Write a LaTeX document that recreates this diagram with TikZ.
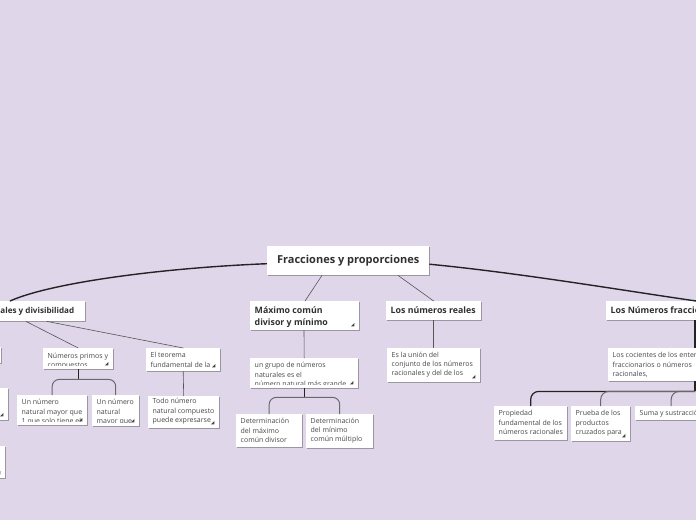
\documentclass[tikz,border=0pt]{standalone}
\usepackage{fontspec}
\newfontfamily\os{Open Sans}
\usetikzlibrary{calc,shadows}
\definecolor{bgc}{RGB}{224,214,233}
\definecolor{txc}{RGB}{72,72,72}
\definecolor{ttc}{RGB}{48,48,48}
\definecolor{lnc}{RGB}{35,35,35}
\definecolor{glc}{RGB}{85,85,85}
\definecolor{brc}{RGB}{105,105,105}
\definecolor{mkc}{RGB}{70,70,70}
\tikzset{
  box/.style={fill=white, inner sep=0pt, draw=none,
    drop shadow={shadow xshift=0.5pt, shadow yshift=-0.8pt, opacity=0.3, fill=black}},
  body/.style={font=\os\fontsize{7}{9.4}\selectfont, text=txc, align=left, inner sep=0pt},
  ttl/.style={font=\os\bfseries\fontsize{8.8}{12}\selectfont, text=ttc, align=left, inner sep=0pt},
  ttls/.style={font=\os\bfseries\fontsize{8.1}{12}\selectfont, text=ttc, align=left, inner sep=0pt},
  mainln/.style={draw=lnc, line width=1.4pt},
  subln/.style={draw=glc, line width=0.6pt},
  trunkln/.style={draw=lnc, line width=1.3pt},
  brkln/.style={draw=brc, line width=1pt},
  darkbrk/.style={draw=lnc, line width=1.2pt}
}
% name, x, y, w, h, style, dy, text
\newcommand\bx[8]{%
  \node[box, minimum width=#4pt, minimum height=#5pt, anchor=north west] (#1) at (#2,#3) {};
  \begin{scope}
    \clip ([shift={(0.5,0.5)}]#1.north west) rectangle ([shift={(-0.5,-3.8)}]#1.south east);
    \node[#6, anchor=north west] (#1-t) at ([shift={(4.5,#7)}]#1.north west) {\strut #8};
  \end{scope}}
\newcommand\mk[1]{\fill[mkc] ([shift={(-5,-4)}]#1.south east) -- ++(-3.5,0) -- ++(3.5,-3.5) -- cycle;}
\begin{document}
\begin{tikzpicture}[x=1pt,y=-1pt]
\useasboundingbox (0,0) rectangle (696,520);
\fill[bgc] (0,0) rectangle (696,520);
\clip (0,0) rectangle (696,520);

% root
\node[box, font=\os\bfseries\fontsize{11}{13}\selectfont, text=ttc, minimum width=162pt,
  minimum height=29pt, anchor=north west] (root) at (267,246) {Fracciones y proporciones};

% main topics
\bx{nat}{-4.3}{301}{89.3}{20}{ttls}{3.8}{ales y divisibilidad}
\bx{mcd}{250}{301}{109}{29}{ttl}{3.6}{Máximo común\\divisor y mínimo}
\bx{reales}{386}{301}{95}{19}{ttl}{3.4}{Los números reales}
\bx{fracc}{606}{301}{180}{19}{ttl}{3.4}{Los Números fraccionarios}

% sub topics
\bx{grupo}{250}{358}{108}{30}{body}{3}{un grupo de números\\naturales es el\\número natural más grande}
\bx{detmcd}{236}{414}{66}{33}{body}{3}{Determinación\\del máximo\\común divisor}
\bx{detmcm}{306}{414}{67}{34}{body}{2.4}{Determinación\\del mínimo\\común múltiplo}
\bx{union}{387}{348}{93}{34}{body}{2.4}{Es la unión del\\conjunto de los números\\racionales y del de los}
\bx{cocientes}{608}{348}{174}{33}{body}{3}{Los cocientes de los enteros\\fraccionarios o números\\racionales,}
\bx{prop}{494}{406}{73}{34}{body}{3}{Propiedad\\fundamental de los\\números racionales}
\bx{prueba}{571}{406}{59}{35}{body}{3}{Prueba de los\\productos\\cruzados para}
\bx{suma}{635}{406}{72}{14}{body}{2.6}{Suma y sustracción}
\bx{primos}{43}{348}{70}{21}{body}{3.6}{Números primos y\\compuestos}
\bx{teorema}{146}{348}{74}{23}{body}{3}{El teorema\\fundamental de la}
\bx{unA}{17}{395}{70}{30}{body}{3}{Un número\\natural mayor que\\1 que solo tiene el}
\bx{unB}{92}{395}{47}{31}{body}{3}{Un número\\natural\\mayor que}
\bx{todo}{148}{396}{71}{32}{body}{1}{Todo número\\natural compuesto\\puede expresarse}

% boxes cut by the left edge
\node[box, minimum width=20pt, minimum height=16pt, anchor=north west] (edA) at (-19,347) {};
\node[box, minimum width=28pt, minimum height=32pt, anchor=north west] (edB) at (-20,388) {};
\node[box, minimum width=25pt, minimum height=32pt, anchor=north west] (edC) at (-20,446) {};

% markers
\mk{mcd} \mk{grupo} \mk{union} \mk{prueba} \mk{primos} \mk{teorema}
\mk{unA} \mk{unB} \mk{todo} \mk{edB} \mk{edC}

% connectors from root
\draw[mainln] ($(root.west)+(0,3)$) .. controls (160,268) and (50,283) .. ($(nat.north west)+(14.3,0)$);
\draw[mainln] ($(root.east)+(0,3.5)$) .. controls (520,273) and (620,290) .. (fracc.north);
\draw[subln] ($(root.south west)+(55,0)$) -- ($(mcd.north west)+(55,0)$);
\draw[subln] ($(root.south west)+(131,0)$) -- (reales.north);

% left branch
\draw[subln] ($(nat.south west)+(30.3,0)$) -- (primos.north);
\draw[subln] ($(nat.south west)+(51.3,0)$) -- (teorema.north);
\draw[subln] (teorema.south) -- (todo.north);
\coordinate (pj) at ($(primos.south)+(0,10)$);
\draw[trunkln] (primos.south) -- (pj);
\draw[brkln, rounded corners=7] (pj) -| (unA.north);
\draw[brkln, rounded corners=7] (pj) -| (unB.north);

% mcd branch
\draw[subln] ($(mcd.south west)+(54,0)$) -- (grupo.north);
\coordinate (gj) at ($(grupo.south)+(0,9)$);
\draw[trunkln, line width=1pt] (grupo.south) -- (gj);
\draw[brkln, rounded corners=7] (gj) -| (detmcd.north);
\draw[brkln, rounded corners=7] (gj) -| (detmcm.north);

% reales branch
\draw[subln] (reales.south) -- (union.north);

% fracc branch
\draw[trunkln, line width=1.8pt] ($(fracc.south west)+(89,0)$) -- ($(cocientes.north west)+(87,0)$);
\coordinate (cj) at ($(cocientes.south west)+(87,10)$);
\draw[trunkln, line width=1.8pt] ($(cocientes.south west)+(87,0)$) -- (cj);
\draw[darkbrk, rounded corners=8] (cj) -| (prop.north);
\draw[brkln, rounded corners=8] (cj) -| (prueba.north);
\draw[brkln, rounded corners=8] (cj) -| (suma.north);
\end{tikzpicture}
\end{document}
